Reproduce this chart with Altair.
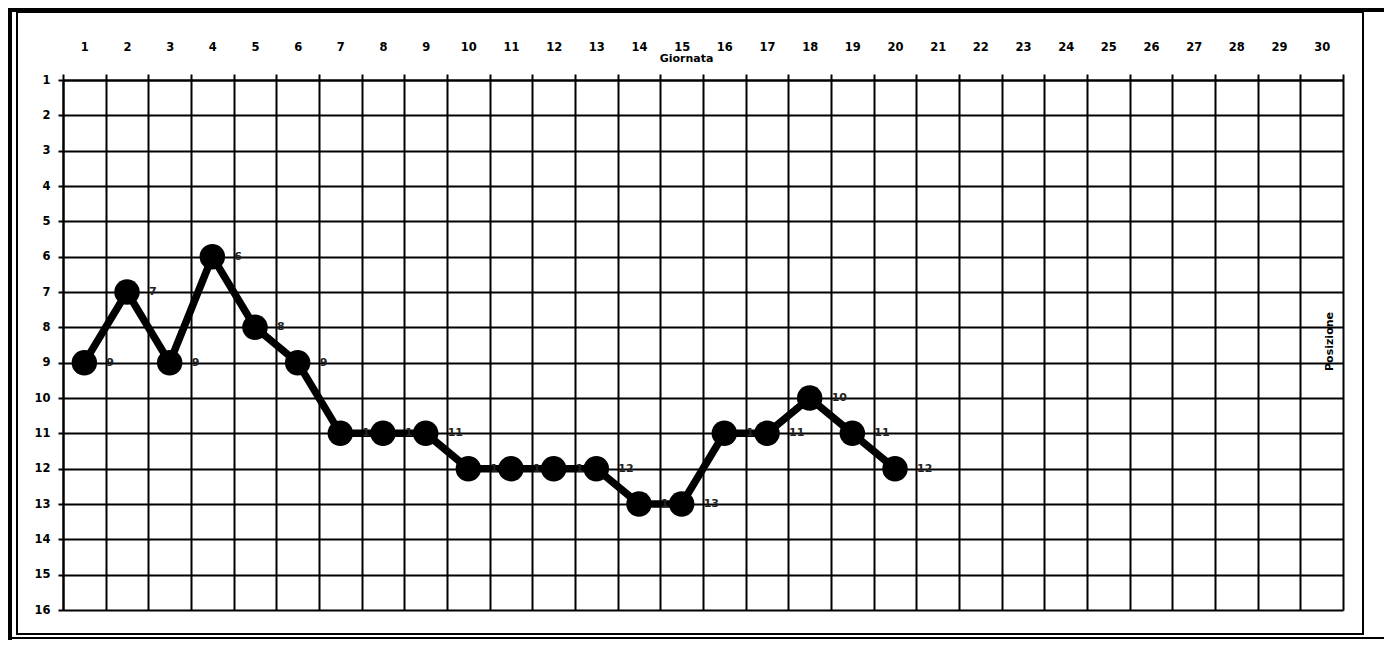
import altair as alt
import pandas as pd

# ---- data ----
giornata = list(range(1, 21))
posizione = [9, 7, 9, 6, 8, 9, 11, 11, 11, 12, 12, 12, 12, 13, 13, 11, 11, 10, 11, 12]
giornate_all = list(range(1, 31))
righe = list(range(1, 17))

df = pd.DataFrame({"Giornata": giornata, "Posizione": posizione})
one = pd.DataFrame({"k": [0]})

W, H = 1280, 530
FONT = "DejaVu Sans"

x_enc = alt.X(
    "Giornata:O",
    scale=alt.Scale(domain=giornate_all, paddingInner=0, paddingOuter=0),
    axis=alt.Axis(
        orient="top", tickBand="extent", grid=True, gridColor="black", gridWidth=2,
        gridOpacity=1, ticks=True, tickSize=6, tickColor="black", tickWidth=2,
        domain=True, domainColor="black", domainWidth=2,
        labelAngle=0, labelFont=FONT, labelFontWeight="bold", labelFontSize=11.5,
        labelColor="black", labelPadding=22,
        title="Giornata", titleFont=FONT, titleFontSize=11, titleFontWeight="bold",
        titleColor="black", titleX=623, titleY=-22, titleAlign="center",
        titleBaseline="middle",
    ),
)
y_enc = alt.Y(
    "Posizione:Q",
    scale=alt.Scale(domain=[1, 16], reverse=True, nice=False, zero=False),
    axis=alt.Axis(
        values=righe, format="d", grid=True, gridColor="black", gridWidth=2,
        gridOpacity=1, ticks=True, tickSize=5, tickColor="black", tickWidth=2,
        domain=True, domainColor="black", domainWidth=2,
        labelFont=FONT, labelFontWeight="bold", labelFontSize=11.5, labelColor="black",
        labelPadding=8,
        title="Posizione", titleFont=FONT, titleFontSize=11, titleFontWeight="bold",
        titleColor="black", titleX=1266, titleY=261, titleAngle=270,
        titleAlign="center", titleBaseline="middle",
    ),
)

base = alt.Chart(df).encode(x=x_enc, y=y_enc)

line = base.mark_line(color="black", strokeWidth=7.5)
labels = base.mark_text(
    align="left", baseline="middle", dx=22, fontSize=11, fontWeight="bold",
    font=FONT, color="#222222"
).encode(text=alt.Text("Posizione:Q", format="d"))
points = base.mark_circle(size=650, color="black", opacity=1)

# ---- decorative frame ----
top_thick = alt.Chart(one).mark_rule(color="black", strokeWidth=4).encode(
    x=alt.value(-55), x2=alt.value(1321), y=alt.value(-70))
left_thick = alt.Chart(one).mark_rule(color="black", strokeWidth=4).encode(
    x=alt.value(-53), y=alt.value(-70), y2=alt.value(560))
bottom_line = alt.Chart(one).mark_rule(color="black", strokeWidth=2).encode(
    x=alt.value(-55), x2=alt.value(1321), y=alt.value(558))
inner_box = alt.Chart(one).mark_rect(fillOpacity=0, stroke="black", strokeWidth=2).encode(
    x=alt.value(-46), x2=alt.value(1300), y=alt.value(-68), y2=alt.value(554))

chart = alt.layer(
    top_thick, left_thick, bottom_line, inner_box, line, labels, points
).properties(
    width=W, height=H,
    autosize=alt.AutoSizeParams(type="none"),
    padding={"left": 55, "top": 72, "right": 41, "bottom": 30},
).configure_view(stroke=None).configure(background="white")

chart.save("out.html", embed_options={"renderer": "svg", "actions": False})
